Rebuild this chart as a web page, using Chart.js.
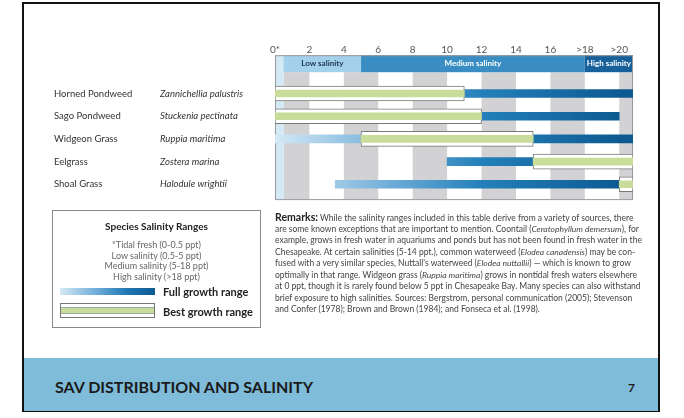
<!DOCTYPE html>
<html>
<head>
<meta charset="utf-8">
<script src="https://cdn.jsdelivr.net/npm/chart.js@4"></script>
<style>
  body { margin:0; background:#fff; font-family: Lato, "Open Sans", sans-serif; }
  #page { position:relative; width:684px; height:418px; overflow:hidden; }
  #frame { position:absolute; left:22px; top:2px; width:638px; height:410px; border:2px solid #111; border-bottom:1px solid #111; box-sizing:border-box; }
  #footer { position:absolute; left:24px; top:358px; width:636px; height:54px; background:#7fbcd9; }
  #footer .t { position:absolute; left:31px; top:19px; font-weight:700; font-size:16px; color:#1a1a1a; }
  #footer .n { position:absolute; left:604px; top:22px; font-weight:700; font-size:12px; color:#1a1a1a; }
  #chart { position:absolute; left:0; top:0; }
  #key { position:absolute; left:52px; top:210px; width:209px; height:118px; border:1px solid #8a8a8a; box-sizing:border-box; }
  #key .title { position:absolute; left:0; width:100%; top:9px; text-align:center; font-weight:700; font-size:10px; color:#222; }
  #key .lines { position:absolute; left:0; width:100%; top:29px; text-align:center; font-size:9px; line-height:10.5px; color:#666; }
  #key .grad { position:absolute; left:7px; top:77px; width:95px; height:7px; background:linear-gradient(90deg,#d4e9f6,#6aaad6 40%,#1f78b4 70%,#0d5a92); }
  #key .best { position:absolute; left:7px; top:92px; width:95px; height:15px; border:1px solid #777; box-sizing:border-box; background:#fff; }
  #key .best div { position:absolute; left:0; right:0; top:3px; height:7px; background:#c8dd9a; border-top:1px solid #9aa; border-bottom:1px solid #9aa; box-sizing:border-box; }
  #key .lab { position:absolute; left:110px; font-weight:700; font-size:11px; color:#222; }
  #remarks { position:absolute; left:275px; top:212px; font-size:8.5px; color:#444; white-space:nowrap; }
  #remarks div { height:11.5px; line-height:11.5px; overflow:visible; }
  #remarks b { font-size:10.5px; color:#222; }
</style>
</head>
<body>
<div id="page">
  <div id="footer"><span class="t">SAV DISTRIBUTION AND SALINITY</span><span class="n">7</span></div>
  <div id="frame"></div>
  <canvas id="chart" width="684" height="418"></canvas>
  <div id="key">
    <div class="title">Species Salinity Ranges</div>
    <div class="lines">*Tidal fresh (0-0.5 ppt)<br>Low salinity (0.5-5 ppt)<br>Medium salinity (5-18 ppt)<br>High salinity (&gt;18 ppt)</div>
    <div class="grad"></div>
    <div class="lab" style="top:74px">Full growth range</div>
    <div class="best"><div></div></div>
    <div class="lab" style="top:94px">Best growth range</div>
  </div>
  <div id="remarks">
    <div><b>Remarks:</b> While the salinity ranges included in this table derive from a variety of sources, there</div>
    <div>are some known exceptions that are important to mention. Coontail (<i>Ceratophyllum demersum</i>), for</div>
    <div>example, grows in fresh water in aquariums and ponds but has not been found in fresh water in the</div>
    <div>Chesapeake. At certain salinities (5-14 ppt.), common waterweed (<i>Elodea canadensis</i>) may be con-</div>
    <div>fused with a very similar species, Nuttall's waterweed (<i>Elodea nuttallii</i>) — which is known to grow</div>
    <div>optimally in that range. Widgeon grass (<i>Ruppia maritima</i>) grows in nontidal fresh waters elsewhere</div>
    <div>at 0 ppt, though it is rarely found below 5 ppt in Chesapeake Bay. Many species can also withstand</div>
    <div>brief exposure to high salinities. Sources: Bergstrom, personal communication (2005); Stevenson</div>
    <div>and Confer (1978); Brown and Brown (1984); and Fonseca et al. (1998).</div>
  </div>
</div>
<script>
// species rows
let nomes = ["Horned Pondweed", "Sago Pondweed", "Widgeon Grass", "Eelgrass", "Shoal Grass"];
let cientificos = ["Zannichellia palustris", "Stuckenia pectinata", "Ruppia maritima", "Zostera marina", "Halodule wrightii"];

// salinity ranges (ppt)
let totalInicio = [0, 0, 0, 10, 3.5];
let totalFim    = [20.8, 20, 20.8, 20.8, 20];
let melhorInicio = [0, 0, 5, 15, 20];
let melhorFim    = [11, 12, 15, 20.8, 20.8];

// axis
let ticksX = [0, 2, 4, 6, 8, 10, 12, 14, 16, 18, 20];
let ticksTexto = ["0*", "2", "4", "6", "8", "10", "12", "14", "16", ">18", ">20"];
let xMax = 20.8;

// salinity zones in the header band
let zonaInicio = [0, 0.5, 5, 18];
let zonaFim = [0.5, 5, 18, 20.8];
let zonaTexto = ["", "Low salinity", "Medium salinity", "High salinity"];
let zonaCor = ["#d3e9f5", "#a3d1ec", "#3a8dc3", "#17609a"];
let zonaTextoCor = ["#000", "#1d3550", "#fff", "#fff"];

// grey stripes behind the bars
let faixaInicio = [0.5, 4, 8, 12, 16, 20];
let faixaFim = [2, 6, 10, 14, 18, 20.8];

const FONTE = "Lato, 'Open Sans', sans-serif";

function gradiente(c){
    let chart = c.chart;
    if(!chart.chartArea) return "#1f78b4";
    let x = chart.scales.x;
    let g = chart.ctx.createLinearGradient(x.getPixelForValue(0), 0, x.getPixelForValue(20), 0);
    g.addColorStop(0, "#d4e9f6");
    g.addColorStop(0.35, "#6aaad6");
    g.addColorStop(0.6, "#2480ba");
    g.addColorStop(1, "#0d5a92");
    return g;
}

const fundo = {
    id: "fundo",
    beforeDatasetsDraw(chart){
        let {ctx, chartArea, scales} = chart;
        let x = scales.x;
        let topo = chartArea.top - 27, faixaTopo = chartArea.top - 10, base = chartArea.bottom + 3.5;
        ctx.save();
        faixaInicio.forEach((v, i) => {
            ctx.fillStyle = "#d2d2d4";
            let a = x.getPixelForValue(v), b = x.getPixelForValue(faixaFim[i]);
            ctx.fillRect(a, faixaTopo, b - a, base - faixaTopo);
        });
        // tidal fresh column
        let t0 = x.getPixelForValue(zonaInicio[0]), t1 = x.getPixelForValue(zonaFim[0]);
        ctx.fillStyle = zonaCor[0];
        ctx.fillRect(t0, topo, t1 - t0, base - topo);
        zonaInicio.forEach((v, i) => {
            let a = x.getPixelForValue(v), b = x.getPixelForValue(zonaFim[i]);
            ctx.fillStyle = zonaCor[i];
            ctx.fillRect(a, topo, b - a, faixaTopo - topo);
            if(zonaTexto[i]){
                ctx.fillStyle = zonaTextoCor[i];
                ctx.font = "bold 8px " + FONTE;
                ctx.textAlign = "center";
                ctx.textBaseline = "middle";
                ctx.fillText(zonaTexto[i], (a + b) / 2, (topo + faixaTopo) / 2);
            }
        });
        ctx.strokeStyle = "#9a9a9a";
        ctx.lineWidth = 1;
        ctx.strokeRect(chartArea.left + 0.5, topo + 0.5, chartArea.right - chartArea.left - 1, base - topo);
        ctx.restore();
    },
    afterDraw(chart){
        let {ctx, scales} = chart;
        ctx.save();
        ctx.fillStyle = "#333";
        ctx.textBaseline = "middle";
        ctx.textAlign = "left";
        nomes.forEach((n, i) => {
            let y = scales.y.getPixelForValue(i);
            ctx.font = "9.5px " + FONTE;
            ctx.fillText(n, 54, y);
            ctx.font = "italic 9.5px " + FONTE;
            ctx.fillText(cientificos[i], 160, y);
        });
        ctx.restore();
    }
};

let ctx = document.getElementById("chart").getContext("2d");
let grafico = new Chart(ctx, {
    type: "bar",
    data: {
        labels: nomes,
        datasets: [
            {
                label: "Best growth range",
                data: melhorInicio.map((v, i) => [v, melhorFim[i]]),
                backgroundColor: "#c8dd9a",
                borderWidth: 0,
                barThickness: 7,
                grouped: false,
                order: 0
            },
            {
                label: "Best box",
                data: melhorInicio.map((v, i) => [v, melhorFim[i]]),
                backgroundColor: "#ffffff",
                borderColor: "#7a7a7a",
                borderWidth: 1,
                borderSkipped: false,
                barThickness: 15,
                grouped: false,
                order: 1
            },
            {
                label: "Full growth range",
                data: totalInicio.map((v, i) => [v, totalFim[i]]),
                backgroundColor: gradiente,
                borderWidth: 0,
                barThickness: 8,
                grouped: false,
                order: 2
            }
        ]
    },
    options: {
        indexAxis: "y",
        responsive: false,
        animation: false,
        layout: { padding: { left: 275, right: 51, top: 25.8, bottom: 222.4 } },
        plugins: { legend: { display: false }, tooltip: { enabled: false } },
        scales: {
            x: {
                position: "top",
                min: 0,
                max: xMax,
                grid: { display: false },
                border: { display: false },
                afterBuildTicks: s => { s.ticks = ticksX.map(v => ({ value: v })); },
                ticks: {
                    padding: 18.2,
                    maxRotation: 0,
                    autoSkip: false,
                    color: "#555",
                    font: { family: FONTE, size: 10 },
                    callback: (v) => ticksTexto[ticksX.indexOf(v)]
                }
            },
            y: { display: false }
        }
    },
    plugins: [fundo]
});
</script>
</body>
</html>
